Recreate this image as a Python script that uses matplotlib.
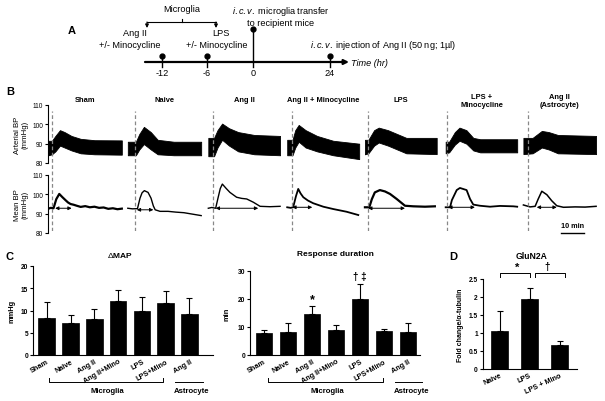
import matplotlib.pyplot as plt
import numpy as np

plt.rcParams['font.family'] = ['Liberation Sans', 'DejaVu Sans']
plt.rcParams['mathtext.fontset'] = 'custom'
plt.rcParams['mathtext.rm'] = 'Liberation Sans'
plt.rcParams['mathtext.it'] = 'Liberation Sans:italic'

W, H = 605, 402

# ---- panel A: timeline
time_labels = ["-12", "-6", "0", "24"]

# ---- panel B: pressure traces (minutes from trace start, mmHg)
trace_titles = ["Sham", "Naive", "Ang II", "Ang II + Minocycline", "LPS",
                "LPS +\nMinocycline", "Ang II\n(Astrocyte)"]
inject_min = [1.7, 3.2, 1.9, 1.9, 1.2, 0.7, 2.2]

mean_t = [
    [0, 1.0, 2.2, 3.4, 4.7, 6.0, 7.4, 8.5, 9.6, 11, 12.3, 14, 16, 18, 20, 22, 24, 26, 28, 30, 31.9],
    [0, 2, 4.2, 5.3, 6.2, 7.2, 8.8, 10.1, 11.1, 11.9, 14, 17.5, 20.9, 24.4, 27.9, 31.9],
    [0, 1.5, 3.2, 4.2, 5.2, 6.1, 7.8, 9.4, 12.3, 14.5, 16.7, 19.6, 22.5, 26.8, 31.2],
    [0, 1.5, 2.6, 3.8, 4.8, 5.8, 7, 9, 11.3, 15.7, 20, 25.8, 30.9],
    [0, 1.9, 3.0, 4.3, 6.5, 8.7, 10.9, 13.8, 17.4, 21, 26.1, 30.4],
    [0, 1.9, 2.7, 4.8, 6.2, 9.1, 10.6, 12, 14.9, 19.3, 23.6, 29.4, 31.1],
    [0, 2.9, 5.1, 6.4, 8, 10.2, 12.3, 14.5, 17.4, 22.5, 26.8, 31.6],
]
mean_v = [
    [92.6, 93.0, 92.8, 97.5, 100.2, 98.6, 97.0, 95.8, 95.0, 94.6, 94.1, 93.5, 93.9, 93.3, 93.6, 93.0, 93.2, 92.5, 92.8, 92.3, 92.6],
    [92.8, 92.5, 92.6, 98, 100.8, 101.9, 101, 98, 94, 92, 91.2, 91.2, 90.8, 90.5, 89.8, 89],
    [92.8, 93.2, 92.8, 98, 103, 105.3, 103, 101, 98.5, 97.9, 97.6, 95.9, 93.8, 93.6, 93.8],
    [93.3, 93.0, 93.3, 99, 102.8, 100.5, 98.5, 96.8, 95.4, 93.6, 92.4, 91, 89.3],
    [93.3, 93.3, 97.5, 101, 102.2, 101.5, 100.2, 97.6, 94.1, 93.8, 93.6, 93.8],
    [93.3, 93.3, 97, 102.2, 103.3, 102.2, 97.6, 94.7, 94.1, 93.6, 94.0, 93.8, 93.6],
    [94.5, 93.5, 93.8, 97.5, 101.6, 99.8, 96.7, 94.1, 93.3, 93.5, 93.4, 93.8],
]

art_t = [
    [0, 1.5, 3, 5, 7, 10, 14, 20, 31.9],
    [0, 3.5, 5, 7, 10, 13, 20, 31.9],
    [0, 2.5, 4, 6, 9, 13, 20, 31.2],
    [0, 2.3, 3.5, 5, 8, 13, 20, 31.3],
    [0, 1.5, 4, 6, 10, 14, 18, 31.2],
    [0, 1.5, 4, 6, 9, 12, 15, 31.1],
    [0, 4, 8, 11, 15, 31.6],
]
art_hi = [
    [91.5, 91.5, 94, 97, 96, 94, 92.5, 91.8, 91.7],
    [91, 91, 95, 98.7, 96, 92, 91, 91],
    [93, 93, 97, 100.4, 98, 96, 94.5, 94],
    [92, 92, 97, 99.7, 97, 94, 91.5, 90],
    [92, 92, 97, 98.3, 97, 95, 93, 93],
    [91, 91, 96, 98.3, 97, 93, 92.3, 92.3],
    [93, 93, 96.6, 96, 94.5, 94],
]
art_lo = [
    [84, 84.5, 86, 89, 88, 86.5, 85, 84.5, 84.3],
    [84, 84, 87, 89.8, 87, 84.5, 84, 84],
    [83.5, 83.5, 88, 92, 89, 86, 84.5, 84],
    [84, 84, 88, 91, 88, 86, 84, 82],
    [84.5, 85, 89, 90.6, 89, 87, 85, 84.6],
    [85, 85.5, 89.5, 91.5, 90, 86.5, 85.5, 85.5],
    [84.6, 85, 88, 87, 85, 84.6],
]

# response-duration arrows on the mean BP traces
arrow_t0 = [2.9, 3.9, 3.2, 2.2, 1.4, 1.1, 5.8]
arrow_t1 = [10.1, 11.1, 21.7, 10.9, 17.4, 12.7, 14.5]
arrow_level = [92.8, 92.0, 92.8, 93.3, 92.8, 93.3, 93.3]

# ---- panel C
groups = ["Sham", "Naive", "Ang II", "Ang II+Mino", "LPS", "LPS+Mino", "Ang II"]
dmap_mean = [8.4, 7.1, 8.1, 12.2, 9.9, 11.6, 9.2]
dmap_sem = [3.6, 2.0, 2.3, 2.5, 3.2, 2.7, 3.6]
dur_mean = [7.9, 8.2, 14.6, 8.9, 20.1, 8.5, 8.1]
dur_sem = [1.2, 3.2, 3.0, 1.9, 5.4, 0.8, 3.5]

# ---- panel D
d_groups = ["Naive", "LPS", "LPS + Mino"]
glun_mean = [1.06, 1.94, 0.68]
glun_sem = [0.56, 0.30, 0.11]

fig = plt.figure(figsize=(6.05, 4.02), dpi=100)


def px_axes(x0, y0, x1, y1):
    a = fig.add_axes([x0 / W, 1 - y1 / H, (x1 - x0) / W, (y1 - y0) / H])
    a.patch.set_alpha(0)
    return a


ov = fig.add_axes([0, 0, 1, 1])
ov.set_xlim(0, W)
ov.set_ylim(H, 0)
ov.axis('off')

# ================= A =================
fs_a = 6.6
ov.text(72, 31, "A", fontsize=8, fontweight='bold', ha='center', va='center')
ov.annotate('', xy=(349, 63), xytext=(145, 63),
            arrowprops=dict(arrowstyle='-|>', lw=1.6, color='black', mutation_scale=7,
                            shrinkA=0, shrinkB=0))
tl_x = [162, 207, 253, 330]
tl_top = [57, 57, 30, 57]
for x, top, lab in zip(tl_x, tl_top, time_labels):
    ov.plot([x, x], [top, 68], color='black', lw=1)
    ov.plot(x, top, 'o', color='black', ms=3.5)
    ov.text(x, 74, lab, fontsize=fs_a, ha='center', va='center')
ov.text(351, 63, "Time (hr)", fontsize=fs_a, style='italic', ha='left', va='center')
ov.text(182, 9, "Microglia", fontsize=fs_a, ha='center', va='center')
ov.plot([147, 216], [23, 23], color='black', lw=0.8)
ov.plot([182, 182], [20, 23], color='black', lw=0.8)
for x in (147, 216):
    ov.annotate('', xy=(x, 29), xytext=(x, 23),
                arrowprops=dict(arrowstyle='-|>', lw=0.8, color='black', mutation_scale=5,
                                shrinkA=0, shrinkB=0))
ov.text(135, 33, "Ang II", fontsize=fs_a, ha='center', va='center')
ov.text(130, 45, "+/- Minocycline", fontsize=fs_a, ha='center', va='center')
ov.text(221, 33, "LPS", fontsize=fs_a, ha='center', va='center')
ov.text(217, 45, "+/- Minocycline", fontsize=fs_a, ha='center', va='center')
ov.text(281, 12, r"$\it{i.c.v.}$ microglia transfer", fontsize=fs_a, ha='center', va='center')
ov.text(281, 23, "to recipient mice", fontsize=fs_a, ha='center', va='center')
ov.text(310, 45, r"$\it{i.c.v.}$ injection of Ang II (50 ng; 1µl)", fontsize=fs_a,
        ha='left', va='center')

# ================= B =================
trace_offset = [0.2, 34.7, 69.7, 104.0, 137.8, 172.9, 206.7]
trace_lw = [1.6, 1.0, 1.0, 1.3, 1.6, 1.3, 1.1]
ov.text(10, 92, "B", fontsize=8, fontweight='bold', ha='center', va='center')

ax_art = px_axes(48, 106, 600, 164)
ax_mean = px_axes(48, 176, 600, 234)
ax_dash = px_axes(48, 112, 600, 232)
ax_dash.set_xlim(0, 240)
ax_dash.axis('off')

for a in (ax_art, ax_mean):
    a.set_xlim(0, 240)
    a.set_ylim(80, 110)
    a.set_yticks([80, 90, 100, 110])
    for s in ('top', 'right', 'bottom'):
        a.spines[s].set_visible(False)
    a.spines['left'].set_linewidth(0.8)
    a.set_xticks([])
    a.tick_params(axis='y', length=2.5, width=0.8, labelsize=4.7, pad=1)

for i in range(7):
    off = trace_offset[i]
    ax_art.fill_between(np.array(art_t[i]) + off, art_lo[i], art_hi[i],
                        color='black', lw=0.6, edgecolor='black')
    ax_mean.plot(np.array(mean_t[i]) + off, mean_v[i], color='black', lw=trace_lw[i])
    ax_mean.annotate('', xy=(arrow_t1[i] + off, arrow_level[i]),
                     xytext=(arrow_t0[i] + off, arrow_level[i]),
                     arrowprops=dict(arrowstyle='<|-|>', lw=0.7, color='black',
                                     mutation_scale=5, shrinkA=0, shrinkB=0))
    ax_dash.axvline(inject_min[i] + off, color='#888888', lw=0.9, ls=(0, (3, 2)))
    ty = 112.3 if '\n' in trace_titles[i] else 113.1
    ax_art.text(off + 15.8, ty, trace_titles[i], fontsize=5.4, fontweight='bold',
                ha='center', va='center', clip_on=False, linespacing=1.1)

ax_art.set_ylabel("Arterial BP\n(mmHg)", fontsize=5.6, labelpad=3, linespacing=1.1)
ax_mean.set_ylabel("Mean BP\n(mmHg)", fontsize=5.6, labelpad=3, linespacing=1.1)

# scale bar
ax_mean.plot([223, 233], [80, 80], color='black', lw=1, clip_on=False)
ax_mean.text(228, 83.8, "10 min", fontsize=5.2, fontweight='bold', ha='center', va='center')


# ================= C =================
def bar_panel(a, xs, means, sems, width, labels, yticks):
    a.bar(xs, means, width=width, color='black', edgecolor='black', lw=0.5)
    a.errorbar(xs, means, yerr=[np.zeros(len(sems)), sems], fmt='none', ecolor='black',
               elinewidth=0.8, capsize=2.5, capthick=0.8)
    for s in ('top', 'right'):
        a.spines[s].set_visible(False)
    for s in ('left', 'bottom'):
        a.spines[s].set_linewidth(0.8)
    a.set_yticks(yticks)
    a.set_xticks(xs)
    a.set_xticklabels(labels, rotation=30, ha='right', rotation_mode='anchor',
                      fontsize=5.2, fontweight='bold')
    a.tick_params(axis='y', length=2.5, width=0.8, labelsize=4.8, pad=1)
    a.tick_params(axis='x', length=0, pad=2)
    for t in a.get_yticklabels():
        t.set_fontweight('bold')


xs = np.arange(7)
ov.text(10, 257, "C", fontsize=8, fontweight='bold', ha='center', va='center')

ax_c1 = px_axes(33, 267, 213, 356)
bar_panel(ax_c1, xs, dmap_mean, dmap_sem, 0.7, groups, [0, 5, 10, 15, 20])
ax_c1.set_xlim(-0.58, 6.99)
ax_c1.set_ylim(0, 20)
ax_c1.set_ylabel("mmHg", fontsize=5.4, fontweight='bold', labelpad=4)
ov.text(120, 255, r"$\Delta$MAP", fontsize=6, fontweight='bold', ha='center', va='center')

ax_c2 = px_axes(250, 272, 420, 356)
bar_panel(ax_c2, xs, dur_mean, dur_sem, 0.69, groups, [0, 10, 20, 30])
ax_c2.set_xlim(-0.58, 6.5)
ax_c2.set_ylim(0, 30)
ax_c2.set_ylabel("min", fontsize=5.4, fontweight='bold', labelpad=5)
ov.text(335, 255, "Response duration", fontsize=6, fontweight='bold', ha='center', va='center')
ax_c2.text(2, dur_mean[2] + dur_sem[2] + 2.5, "*", fontsize=9, fontweight='bold',
           ha='center', va='center')
ax_c2.text(4, dur_mean[4] + dur_sem[4] + 2.8, "† ‡", fontsize=7, fontweight='bold',
           ha='center', va='center', clip_on=False)

# group brackets under C
for x0, x1, xt in ((49, 163, 107), (268, 383, 327)):
    ov.plot([x0, x0, x1, x1], [378.7, 382.7, 382.7, 378.7], color='black', lw=0.7)
    ov.text(xt, 392, "Microglia", fontsize=5.6, fontweight='bold', ha='center', va='center')
for x0, x1, xt in ((175, 203, 192), (395, 422, 412)):
    ov.plot([x0, x1], [383, 383], color='black', lw=0.7)
    ov.text(xt, 392, "Astrocyte", fontsize=5.6, fontweight='bold', ha='center', va='center')

# ================= D =================
ov.text(453, 257, "D", fontsize=8, fontweight='bold', ha='center', va='center')
ov.text(532, 257, "GluN2A", fontsize=6.2, fontweight='bold', ha='center', va='center')
ax_d = px_axes(482.7, 280, 576.7, 370)
bar_panel(ax_d, np.arange(3), glun_mean, glun_sem, 0.58, d_groups,
          [0, 0.5, 1, 1.5, 2, 2.5])
ax_d.set_yticklabels(["0", "0.5", "1", "1.5", "2", "2.5"])
for t in ax_d.get_xticklabels():
    t.set_rotation(25)
ax_d.set_xlim(-0.567, 2.57)
ax_d.set_ylim(0, 2.5)
ax_d.set_ylabel("Fold change/α-tubulin", fontsize=5, fontweight='bold', labelpad=3)
for x0, x1, xt, sym in ((500, 530, 516.7, "*"), (535, 565, 546.7, "†")):
    ov.plot([x0, x0, x1, x1], [277.5, 274.3, 274.3, 277.5], color='black', lw=0.7)
    ov.text(xt, 267.5, sym, fontsize=8 if sym == "*" else 7, fontweight='bold',
            ha='center', va='center')

fig.savefig("out.png", dpi=100)
